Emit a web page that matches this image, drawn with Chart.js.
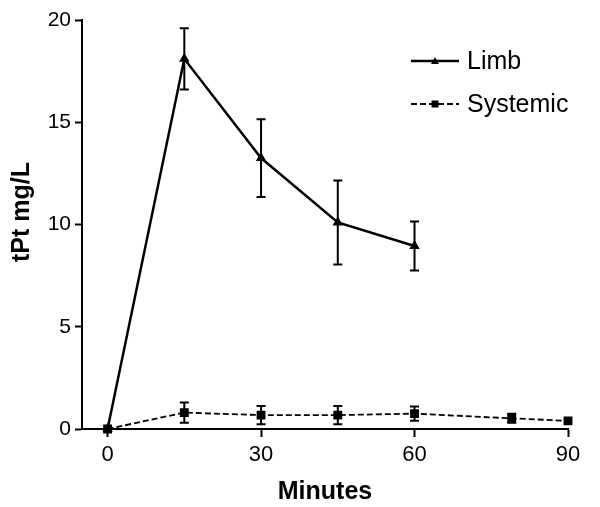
<!DOCTYPE html>
<html>
<head>
<meta charset="utf-8">
<script src="https://cdn.jsdelivr.net/npm/chart.js@4/dist/chart.umd.min.js"></script>
<style>
  html, body { margin: 0; padding: 0; background: #fff; }
  #wrap { width: 600px; height: 507px; }
</style>
</head>
<body>
<div id="wrap"><canvas id="chart"></canvas></div>
<script>
// time points (minutes)
const limbMinutes = [0, 15, 30, 45, 60];
const limbValues = [0, 18.1, 13.25, 10.1, 8.95];
const limbErrors = [0, 1.5, 1.9, 2.05, 1.2];

const systemicMinutes = [0, 15, 30, 45, 60, 79, 90];
const systemicValues = [0, 0.8, 0.68, 0.68, 0.75, 0.52, 0.4];
const systemicErrors = [0, 0.5, 0.45, 0.45, 0.35, 0.22, 0];

const xTicks = [0, 30, 60, 90];
const yTicks = [0, 5, 10, 15, 20];

const FONT = '"Liberation Sans", Arial, sans-serif';

const toPoints = (xs, ys) => xs.map((x, i) => ({ x: x, y: ys[i] }));

// error bars with caps
const errorBars = {
  id: 'errorBars',
  afterDatasetsDraw(chart) {
    const ctx = chart.ctx;
    const yScale = chart.scales.y;
    chart.data.datasets.forEach((ds, di) => {
      const meta = chart.getDatasetMeta(di);
      ds.errors.forEach((err, i) => {
        if (!err) return;
        const pt = meta.data[i];
        const v = ds.data[i].y;
        const top = yScale.getPixelForValue(v + err);
        const bot = yScale.getPixelForValue(v - err);
        ctx.save();
        ctx.strokeStyle = '#000';
        ctx.lineWidth = 2;
        ctx.beginPath();
        ctx.moveTo(pt.x, top);
        ctx.lineTo(pt.x, bot);
        ctx.moveTo(pt.x - 4.5, top);
        ctx.lineTo(pt.x + 4.5, top);
        ctx.moveTo(pt.x - 4.5, bot);
        ctx.lineTo(pt.x + 4.5, bot);
        ctx.stroke();
        ctx.restore();
      });
    });
  }
};

// legend in the upper right: line sample + marker + label, and the y title
const lineLegend = {
  id: 'lineLegend',
  afterDraw(chart) {
    const ctx = chart.ctx;
    const rows = [61, 104];
    chart.data.datasets.forEach((ds, i) => {
      const y = rows[i];
      ctx.save();
      ctx.strokeStyle = '#000';
      ctx.lineWidth = ds.borderWidth;
      ctx.setLineDash(ds.borderDash || []);
      ctx.beginPath();
      ctx.moveTo(411, y);
      ctx.lineTo(459, y);
      ctx.stroke();
      ctx.setLineDash([]);
      ctx.fillStyle = '#000';
      if (ds.pointStyle === 'triangle') {
        ctx.beginPath();
        ctx.moveTo(435, y - 4);
        ctx.lineTo(439, y + 3);
        ctx.lineTo(431, y + 3);
        ctx.closePath();
        ctx.fill();
      } else {
        ctx.fillRect(431.5, y - 3.5, 7, 7);
      }
      ctx.font = '25px ' + FONT;
      ctx.textBaseline = 'middle';
      ctx.fillText(ds.label, 467, y + 1);
      ctx.restore();
    });

    ctx.save();
    ctx.translate(22, 212);
    ctx.rotate(-Math.PI / 2);
    ctx.font = 'bold 25px ' + FONT;
    ctx.fillStyle = '#000';
    ctx.textAlign = 'center';
    ctx.textBaseline = 'middle';
    ctx.fillText('tPt mg/L', 0, 0);
    ctx.restore();
  }
};

new Chart(document.getElementById('chart'), {
  type: 'line',
  data: {
    datasets: [
      {
        label: 'Limb',
        data: toPoints(limbMinutes, limbValues),
        errors: limbErrors,
        borderColor: '#000',
        backgroundColor: '#000',
        borderWidth: 2.5,
        pointStyle: 'triangle',
        pointRadius: 3.5,
        clip: false,
      },
      {
        label: 'Systemic',
        data: toPoints(systemicMinutes, systemicValues),
        errors: systemicErrors,
        borderColor: '#000',
        backgroundColor: '#000',
        borderWidth: 1.8,
        borderDash: [6, 3],
        pointStyle: 'rect',
        pointRadius: 5,
        clip: false,
      },
    ],
  },
  options: {
    responsive: true,
    maintainAspectRatio: false,
    animation: false,
    layout: { padding: { left: 6, top: 20, right: 32, bottom: 0 } },
    plugins: { legend: { display: false }, tooltip: { enabled: false } },
    scales: {
      x: {
        type: 'linear',
        min: -5,
        max: 90,
        afterBuildTicks: (s) => { s.ticks = xTicks.map(v => ({ value: v })); },
        afterFit: (s) => { s.height = 78; },
        grid: { drawOnChartArea: false, drawTicks: true, tickLength: 8, tickWidth: 2, color: '#000' },
        border: { display: true, color: '#000', width: 2 },
        ticks: { color: '#000', font: { family: FONT, size: 22 }, padding: 5, maxRotation: 0 },
        title: { display: true, text: 'Minutes', color: '#000', font: { family: FONT, size: 25, weight: 'bold' }, padding: 0 },
      },
      y: {
        min: 0,
        max: 20,
        afterBuildTicks: (s) => { s.ticks = yTicks.map(v => ({ value: v })); },
        afterFit: (s) => { s.width = 76; },
        grid: { drawOnChartArea: false, drawTicks: true, tickLength: 7, tickWidth: 2, color: '#000' },
        border: { display: true, color: '#000', width: 2 },
        ticks: { color: '#000', font: { family: FONT, size: 21 }, padding: 4 },
        title: { display: false },
      },
    },
  },
  plugins: [errorBars, lineLegend],
});
</script>
</body>
</html>
